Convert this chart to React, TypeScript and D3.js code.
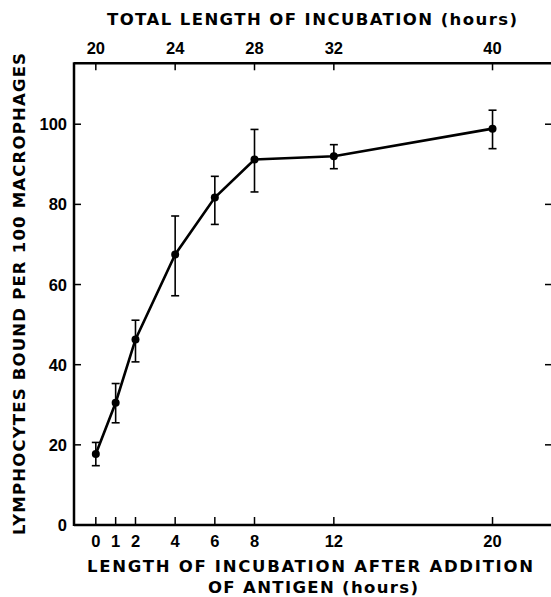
import React from "react";
import * as d3 from "d3";

// hours after antigen was added (bottom axis)
const afterHours = [0, 1, 2, 4, 6, 8, 12, 20];
// lymphocytes bound per 100 macrophages
const meanBound = [17.7, 30.5, 46.3, 67.5, 81.7, 91.2, 92.0, 98.9];
const upperBound = [20.6, 35.3, 51.1, 77.1, 87.0, 98.7, 94.9, 103.5];
const lowerBound = [14.8, 25.5, 40.7, 57.2, 75.0, 83.1, 88.9, 93.9];

const bottomTicks = [0, 1, 2, 4, 6, 8, 12, 20];
const bottomTickLabels = ["0", "1", "2", "4", "6", "8", "12", "20"];
const topTicks = [20, 24, 28, 32, 40];
const yTicks = [0, 20, 40, 60, 80, 100];

const W = 551;
const H = 597;
const tickFont = "'Liberation Sans', Arial, sans-serif";
const titleFont = "'DejaVu Sans', sans-serif";

const App = () => {
  const x = d3.scaleLinear().domain([-1.1, 23.2]).range([74, 556]);
  // total incubation time = time after antigen + 20 h
  const xTop = d3.scaleLinear().domain([18.9, 43.2]).range([74, 556]);
  const y = d3.scaleLinear().domain([0, 115.2]).range([525, 63.3]);

  const data = afterHours.map((h, i) => ({
    h,
    v: meanBound[i],
    hi: upperBound[i],
    lo: lowerBound[i],
  }));

  const line = d3
    .line<{ h: number; v: number }>()
    .x((d) => x(d.h))
    .y((d) => y(d.v));

  const [x0, x1] = x.range();
  const [yb, yt] = y.range();

  return (
    <svg
      width={W}
      height={H}
      style={{ position: "absolute", left: 0, top: 0, background: "#fff" }}
    >
      {/* frame */}
      <g stroke="#000" strokeWidth={2.5} fill="none">
        <line x1={x0} y1={yb} x2={x1} y2={yb} />
        <line x1={x0} y1={yt} x2={x1} y2={yt} />
        <line x1={x0} y1={yt - 1} x2={x0} y2={yb + 1} />
        <line x1={x1} y1={yt} x2={x1} y2={yb} />
      </g>

      {/* ticks */}
      <g stroke="#000" strokeWidth={1.5}>
        {bottomTicks.map((t) => (
          <line key={t} x1={x(t)} x2={x(t)} y1={yb} y2={yb - 8} />
        ))}
        {topTicks.map((t) => (
          <line key={t} x1={xTop(t)} x2={xTop(t)} y1={yt} y2={yt + 7} />
        ))}
        {yTicks.map((t) => (
          <line key={t} x1={x0} x2={x0 + 7} y1={y(t)} y2={y(t)} />
        ))}
        {yTicks.map((t) => (
          <line key={"r" + t} x1={x1} x2={x1 - 11} y1={y(t)} y2={y(t)} />
        ))}
      </g>

      {/* tick labels */}
      <g fontFamily={tickFont} fontWeight="bold" fontSize={16.5} fill="#000">
        {bottomTicks.map((t, i) => (
          <text key={t} x={x(t)} y={547} textAnchor="middle">
            {bottomTickLabels[i]}
          </text>
        ))}
        {topTicks.map((t) => (
          <text key={t} x={xTop(t)} y={54} textAnchor="middle">
            {t}
          </text>
        ))}
        {yTicks.map((t) => (
          <text key={t} x={67} y={y(t) + 6} textAnchor="end">
            {t}
          </text>
        ))}
      </g>

      {/* axis titles */}
      <g fontFamily={titleFont} fontWeight="bold" fontSize={16.5} fill="#000">
        <text x={312} y={25} textAnchor="middle" textLength={410} lengthAdjust="spacing">
          TOTAL LENGTH OF INCUBATION (hours)
        </text>
        <text x={310} y={572} textAnchor="middle" textLength={446} lengthAdjust="spacing">
          LENGTH OF INCUBATION AFTER ADDITION
        </text>
        <text x={313} y={593} textAnchor="middle" textLength={210} lengthAdjust="spacing">
          OF ANTIGEN (hours)
        </text>
        <text
          transform="translate(25,294) rotate(-90)"
          textAnchor="middle"
          textLength={482}
          lengthAdjust="spacing"
        >
          LYMPHOCYTES BOUND PER 100 MACROPHAGES
        </text>
      </g>

      {/* error bars */}
      <g stroke="#000" strokeWidth={1.6}>
        {data.map((d) => (
          <g key={d.h}>
            <line x1={x(d.h)} x2={x(d.h)} y1={y(d.hi)} y2={y(d.lo)} />
            <line x1={x(d.h) - 4} x2={x(d.h) + 4} y1={y(d.hi)} y2={y(d.hi)} />
            <line x1={x(d.h) - 4} x2={x(d.h) + 4} y1={y(d.lo)} y2={y(d.lo)} />
          </g>
        ))}
      </g>

      {/* mean line */}
      <path d={line(data) ?? ""} fill="none" stroke="#000" strokeWidth={2.6} />
      {data.map((d) => (
        <circle key={d.h} cx={x(d.h)} cy={y(d.v)} r={4} fill="#000" />
      ))}
    </svg>
  );
};

export default App;
